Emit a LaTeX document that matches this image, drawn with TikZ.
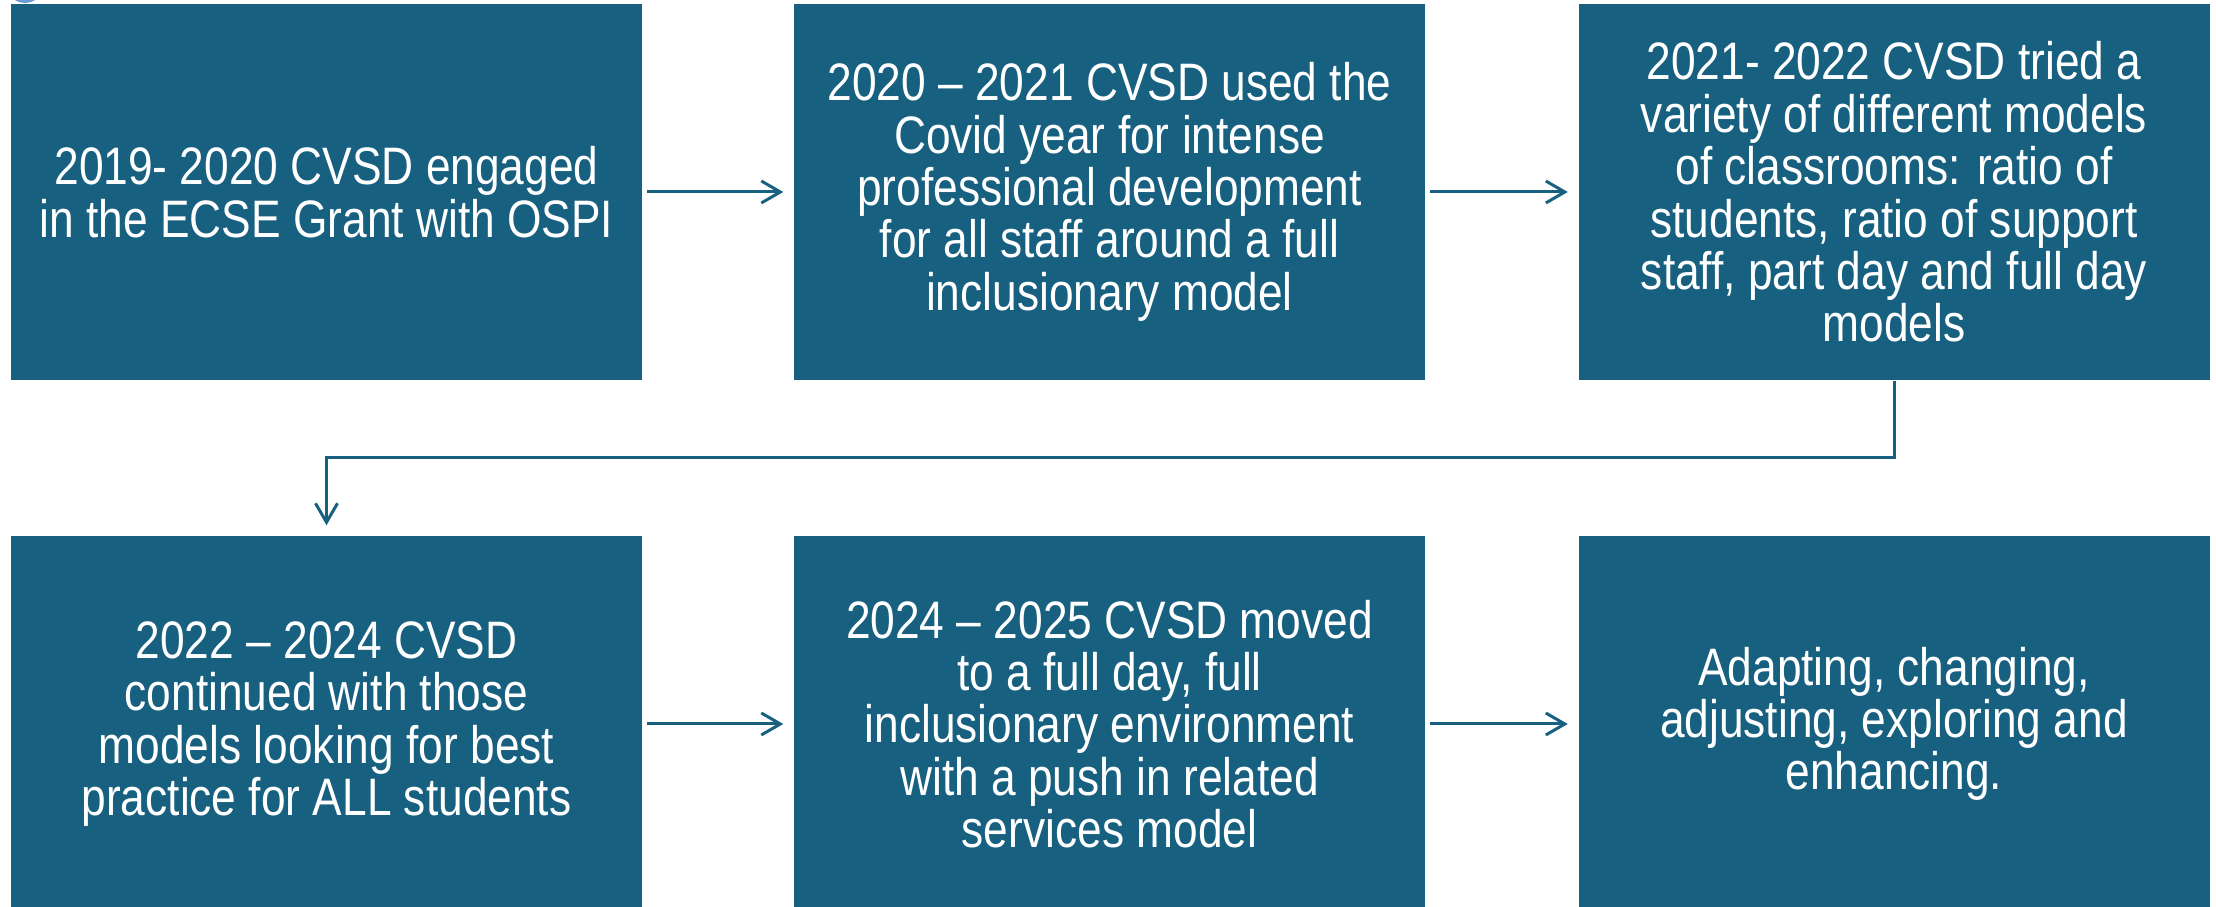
\documentclass[tikz,border=0pt]{standalone}
\usepackage{fontspec}
\setmainfont[FakeStretch=0.84]{Liberation Sans}
\usetikzlibrary{arrows.meta}

\definecolor{stepblue}{RGB}{24,96,128}
\definecolor{blobblue}{RGB}{110,155,215}

\tikzset{
  stage/.style={fill=stepblue, text=white, align=center, inner sep=0pt,
    minimum width=6.31cm, minimum height=3.76cm, font=\fontsize{15}{14.9}\selectfont},
  flow/.style={->, draw=stepblue, line width=0.85pt, shorten <=0.4mm, shorten >=1mm}
}

\begin{document}
\begin{tikzpicture}[>={Straight Barb[length=1.9mm,width=2.2mm]}]
  \useasboundingbox (0,0) rectangle (22.16,9.07);
  \clip (0,0) rectangle (22.16,9.07);

  % bit of a shape cut off at the top edge
  \fill[blobblue] (0.25,9.12) ellipse (0.13 and 0.08);

  % first row
  \node[stage] (s1) at (3.265,7.15)
    {2019- 2020 CVSD engaged\\ in the ECSE Grant with OSPI};
  \node[stage] (s2) at (11.095,7.15)
    {2020 -- 2021 CVSD used the\\ Covid year for intense\\ professional development\\ for all staff around a full\\ inclusionary model};
  \node[stage] (s3) at (18.94,7.15)
    {2021- 2022 CVSD tried a\\ variety of different models\\ of classrooms: ratio of\\ students, ratio of support\\ staff, part day and full day\\ models};

  % second row (runs off the bottom edge)
  \node[stage] (s4) at (3.265,1.83)
    {2022 -- 2024 CVSD\\ continued with those\\ models looking for best\\ practice for ALL students};
  \node[stage] (s5) at (11.095,1.83)
    {2024 -- 2025 CVSD moved\\ to a full day, full\\ inclusionary environment\\ with a push in related\\ services model};
  \node[stage] (s6) at (18.94,1.83)
    {Adapting, changing,\\ adjusting, exploring and\\ enhancing.};

  \coordinate (turn) at (0,4.49);

  \draw[flow] (s1) -- (s2);
  \draw[flow] (s2) -- (s3);
  \draw[flow, shorten <=0pt] (s3.south) -- (s3.south |- turn) -| (s4.north);
  \draw[flow] (s4) -- (s5);
  \draw[flow] (s5) -- (s6);
\end{tikzpicture}
\end{document}
